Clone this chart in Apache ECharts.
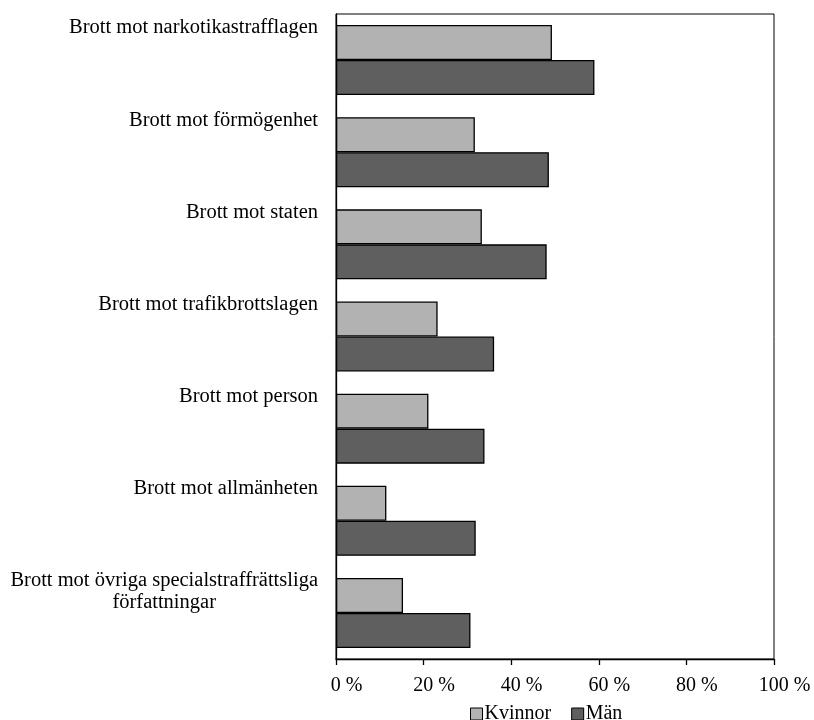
<!DOCTYPE html>
<html><head><meta charset="utf-8">
<script src="https://cdn.jsdelivr.net/npm/echarts@6/dist/echarts.min.js"></script>
<style>html,body{margin:0;padding:0;background:#fff}#c{width:814px;height:720px}</style>
</head><body><div id="c"></div>
<script>
const categories = [
  'Brott mot narkotikastrafflagen',
  'Brott mot förmögenhet',
  'Brott mot staten',
  'Brott mot trafikbrottslagen',
  'Brott mot person',
  'Brott mot allmänheten',
  'Brott mot övriga specialstraffrättsliga\nförfattningar'
];
const kvinnor = [49.3, 31.7, 33.3, 23.2, 21.1, 11.5, 15.3];
const man = [59.0, 48.6, 48.1, 36.1, 33.9, 31.9, 30.7];
const seriesNames = ['Kvinnor', 'Män'];
const xTicks = [0, 20, 40, 60, 80, 100];

const FONT = '"Liberation Serif", "DejaVu Serif", serif';
const FS = 20;
const FSC = 20.5;
const chart = echarts.init(document.getElementById('c'), null, {renderer: 'canvas'});
chart.setOption({
  animation: false,
  textStyle: {fontFamily: FONT, color: '#000'},
  grid: {left: 336, right: 40, top: 14, bottom: 61, show: true, borderColor: '#000', borderWidth: 1, backgroundColor: 'transparent'},
  legend: {
    data: seriesNames,
    top: 699, left: 465,
    icon: 'rect', itemWidth: 12, itemHeight: 12, itemGap: 20,
    itemStyle: {borderColor: '#000', borderWidth: 1},
    textStyle: {fontFamily: FONT, fontSize: FS, color: '#000', padding: [0, 0, 0, -3]}
  },
  xAxis: {
    type: 'value', min: xTicks[0], max: xTicks[xTicks.length - 1], interval: 20,
    splitLine: {show: false},
    axisLine: {show: true, lineStyle: {color: '#000', width: 1.3}},
    axisTick: {show: true, length: 6, lineStyle: {color: '#000', width: 1.3}},
    axisLabel: {formatter: '{value} %', color: '#000', fontSize: FS, fontFamily: FONT, margin: 17,
                padding: [0, 0, 0, 21]}
  },
  yAxis: [
    {
      type: 'category', data: categories, inverse: true,
      axisLine: {show: true, lineStyle: {color: '#000', width: 1.3}},
      axisTick: {show: false}, axisLabel: {show: false}
    },
    {
      type: 'category', data: categories.concat(['']), inverse: true, boundaryGap: false,
      position: 'left',
      axisLine: {show: false}, axisTick: {show: false},
      axisLabel: {
        interval: 0, verticalAlign: 'top', align: 'right', margin: 18,
        fontSize: FSC, fontFamily: FONT, color: '#000', lineHeight: 22, padding: [3, 0, 0, 0],
        formatter: function (v) {
          return v.split('\n').map(function (l) { return '{c|' + l + '}'; }).join('\n');
        },
        rich: {c: {align: 'center', fontSize: FSC, fontFamily: FONT, color: '#000', lineHeight: 22}}
      }
    }
  ],
  series: [
    {name: seriesNames[0], type: 'bar', yAxisIndex: 0, data: kvinnor, barGap: '0%', barCategoryGap: '24%',
     itemStyle: {color: '#b2b2b2', borderColor: '#000', borderWidth: 1.3}},
    {name: seriesNames[1], type: 'bar', yAxisIndex: 0, data: man, barGap: '0%', barCategoryGap: '24%',
     itemStyle: {color: '#5f5f5f', borderColor: '#000', borderWidth: 1.3}}
  ]
});
</script></body></html>
